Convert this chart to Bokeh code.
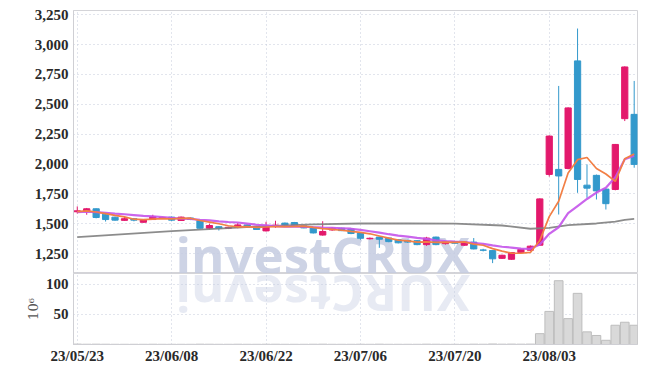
import numpy as np
from bokeh.plotting import figure
from bokeh.layouts import column
from bokeh.models import ColumnDataSource, NumeralTickFormatter, FixedTicker, Range1d
from bokeh.embed import file_html
from bokeh.resources import INLINE
from bokeh.core.properties import value

# ---------------- data ----------------
opens  = [1600, 1605, 1625, 1580, 1555, 1528, 1542, 1512, 1535, 1545,
          1555, 1527, 1548, 1525, 1462, 1475, 1462, 1468, 1490, 1478,
          1440, 1478, 1505, 1510, 1482, 1465, 1405, 1448, 1462, 1455,
          1422, 1374, 1388, 1380, 1366, 1360, 1358, 1325, 1388, 1333,
          1350, 1320, 1346, 1280, 1275, 1210, 1202, 1258, 1278, 1320,
          1913, 1955, 1963, 2864, 1823, 1905, 1790, 1787, 2380, 2416]
highs  = [1645, 1632, 1628, 1585, 1558, 1565, 1548, 1535, 1575, 1555,
          1560, 1560, 1552, 1528, 1500, 1480, 1475, 1505, 1495, 1482,
          1516, 1525, 1510, 1515, 1488, 1470, 1521, 1470, 1466, 1460,
          1425, 1385, 1392, 1385, 1370, 1365, 1362, 1390, 1392, 1355,
          1355, 1350, 1380, 1290, 1278, 1240, 1262, 1290, 1318, 1712,
          2240, 2654, 2475, 3135, 1997, 1912, 1795, 2168, 2818, 2696]
lows   = [1585, 1575, 1545, 1518, 1525, 1525, 1520, 1510, 1532, 1540,
          1522, 1524, 1530, 1458, 1452, 1443, 1455, 1462, 1465, 1448,
          1435, 1465, 1480, 1475, 1462, 1418, 1400, 1440, 1438, 1412,
          1365, 1368, 1298, 1345, 1335, 1340, 1320, 1315, 1320, 1325,
          1332, 1315, 1285, 1268, 1170, 1205, 1198, 1255, 1275, 1315,
          1895, 1577, 1955, 1759, 1717, 1703, 1619, 1780, 2360, 1969]
closes = [1608, 1625, 1552, 1535, 1530, 1542, 1530, 1532, 1558, 1552,
          1530, 1555, 1536, 1462, 1485, 1462, 1470, 1490, 1472, 1452,
          1478, 1488, 1488, 1482, 1465, 1423, 1435, 1462, 1442, 1418,
          1378, 1378, 1370, 1350, 1340, 1346, 1325, 1380, 1325, 1350,
          1336, 1346, 1289, 1278, 1206, 1236, 1258, 1285, 1312, 1708,
          2234, 1900, 2470, 1871, 1798, 1775, 1668, 2164, 2813, 1997]
volumes = [0.6, 0.4, 0.5, 0.4, 0.3, 0.3, 0.3, 0.3, 0.4, 0.3,
           0.3, 0.3, 0.3, 0.5, 0.4, 0.3, 0.3, 0.4, 0.3, 0.3,
           0.4, 0.4, 0.3, 0.3, 0.3, 0.4, 0.5, 0.3, 0.3, 0.3,
           0.4, 0.3, 0.5, 0.3, 0.3, 0.3, 0.3, 0.5, 0.4, 0.3,
           0.3, 0.3, 0.5, 0.4, 0.8, 0.5, 0.6, 0.5, 0.6, 18,
           55, 106, 43, 85, 21, 15, 7, 32, 37, 32]
# closes before the first shown day (used only for the moving averages)
prior_closes = [1590, 1585, 1595, 1600, 1590, 1595, 1600, 1605, 1600]
# long moving average
long_ma_idx = [0, 10, 20, 25, 30, 35, 40, 45, 48, 50, 52, 55, 57, 58, 59]
long_ma_val = [1388, 1438, 1480, 1495, 1502, 1503, 1500, 1485, 1458, 1465,
               1488, 1502, 1517, 1533, 1540]
tick_idx = [0, 10, 20, 30, 40, 50]
tick_labels = ["23/05/23", "23/06/08", "23/06/22", "23/07/06", "23/07/20", "23/08/03"]
price_ticks = [1250, 1500, 1750, 2000, 2250, 2500, 2750, 3000, 3250]
vol_ticks = [50, 100]

# ---------------- derived ----------------
n = len(closes)
xs = list(range(n))
allc = np.array(prior_closes + closes, dtype=float)
k0 = len(prior_closes)
ma5 = [allc[k0 + i - 4:k0 + i + 1].mean() for i in range(n)]
ma10 = [allc[k0 + i - 9:k0 + i + 1].mean() for i in range(n)]

UP = "#e3196c"
DOWN = "#3399cc"
colors = [UP if c >= o else DOWN for o, c in zip(opens, closes)]
src = ColumnDataSource(dict(
    x=xs, o=opens, h=highs, l=lows, c=closes,
    top=[max(o, c) for o, c in zip(opens, closes)],
    bot=[min(o, c) for o, c in zip(opens, closes)],
    col=colors, vol=volumes, ma5=ma5, ma10=ma10))

xr = Range1d(-0.4, 59.35)
FONT = "Liberation Sans Narrow"
GRID = "#c5cada"

def style(p):
    p.outline_line_color = "#d4d4d8"
    p.xgrid.grid_line_color = GRID
    p.ygrid.grid_line_color = GRID
    p.xgrid.grid_line_dash = "1 3"
    p.ygrid.grid_line_dash = "1 3"
    p.xgrid.ticker = FixedTicker(ticks=tick_idx)
    for ax in p.axis:
        ax.axis_line_color = "#cfcfd4"
        ax.major_tick_line_color = None
        ax.minor_tick_line_color = None
        ax.major_tick_out = 0
        ax.major_label_text_font = FONT
        ax.major_label_text_font_style = "bold"
        ax.major_label_text_font_size = "15px"
        ax.major_label_text_color = "#2a2a2a"
        ax.major_label_standoff = 5

p1 = figure(width=643, height=273, x_range=xr, y_range=Range1d(1083, 3286),
            output_backend="svg", toolbar_location=None,
            min_border_left=73, min_border_right=6, min_border_top=10, min_border_bottom=0)
style(p1)
p1.xaxis.visible = False
p1.yaxis.ticker = FixedTicker(ticks=price_ticks)
p1.yaxis.formatter = NumeralTickFormatter(format="0,0")

p1.text(x=[26.0], y=[1098], text=["investCRUX"], text_align="center",
        text_baseline="alphabetic", y_offset=-18, text_font=value("Open Sans"),
        text_font_style="bold", text_font_size="51px", text_color="#c4cbe1", text_alpha=0.85)

p1.segment(x0="x", y0="l", x1="x", y1="h", color="col", line_width=1, source=src)
p1.vbar(x="x", top="top", bottom="bot", width=0.66, fill_color="col",
        line_color="col", line_width=1, source=src)
p1.line(long_ma_idx, long_ma_val, line_color="#808080", line_width=1.8, line_alpha=0.9)
p1.line("x", "ma10", line_color="#c454ea", line_width=2.2, line_alpha=0.9, source=src)
p1.line("x", "ma5", line_color="#f27f45", line_width=1.7, source=src)

p2 = figure(width=643, height=93, x_range=xr, y_range=Range1d(0, 118),
            output_backend="svg", toolbar_location=None,
            min_border_left=73, min_border_right=6, min_border_top=0, min_border_bottom=0)
style(p2)
p2.yaxis.ticker = FixedTicker(ticks=vol_ticks)
p2.xaxis.ticker = FixedTicker(ticks=tick_idx)
p2.xaxis.major_label_overrides = {i: s for i, s in zip(tick_idx, tick_labels)}
p2.xaxis.major_label_standoff = 3
p2.yaxis.axis_label = "10\u2076"
p2.yaxis.axis_label_text_font = "DejaVu Serif"
p2.yaxis.axis_label_text_font_style = "normal"
p2.yaxis.axis_label_text_font_size = "13px"
p2.yaxis.axis_label_text_color = "#555555"
p2.yaxis.axis_label_standoff = 2

p2.text(x=[26.0], y=[112], text=["XURCtsevni"], angle=np.pi, text_align="center",
        text_baseline="alphabetic", y_offset=18, text_font=value("Open Sans"),
        text_font_style="bold", text_font_size="51px", text_color="#c4cbe1", text_alpha=0.4)
p2.vbar(x="x", top="vol", bottom=0, width=0.92, fill_color="#d9d9d9",
        line_color="#bdbdbd", line_width=1, source=src)

layout = column(p1, p2, spacing=0)
open("out.html", "w").write(file_html(layout, INLINE))
